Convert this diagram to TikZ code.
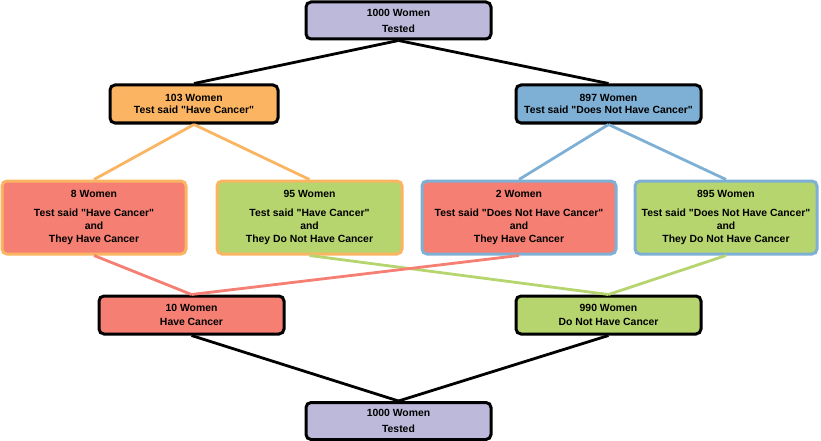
\documentclass[tikz,border=0pt]{standalone}
\usepackage{fontspec}
\newfontfamily\boxfont{Liberation Sans}
\definecolor{cpurple}{HTML}{BDB9DB}
\definecolor{corange}{HTML}{FBB562}
\definecolor{cblue}{HTML}{7EB0D5}
\definecolor{cred}{HTML}{F47F72}
\definecolor{cgreen}{HTML}{B6D56E}
\tikzset{
  box/.style={draw=black, line width=3pt, rounded corners=5pt, align=center,
    inner sep=0pt, font=\boxfont\fontsize{10.4}{12}\selectfont\bfseries},
  link/.style={line width=2.8pt},
}
\begin{document}
\begin{tikzpicture}[x=1pt,y=-1pt]
\useasboundingbox (0,0) rectangle (821,441);
% nodes
\node[box, fill=cpurple, minimum width=185, minimum height=37] (top) at (398.5,20.5) {1000 Women\\[4pt]Tested};
\node[box, fill=corange, minimum width=168, minimum height=38] (pos) at (194,104) {103 Women\\Test said "Have Cancer"};
\node[box, fill=cblue, minimum width=185, minimum height=38] (neg) at (608.5,104) {897 Women\\Test said "Does Not Have Cancer"};
\node[box, draw=corange, fill=cred, minimum width=184, minimum height=73] (tp) at (94,217.5) {8 Women\\[7pt]Test said "Have Cancer"\\[1pt]and\\[1pt]They Have Cancer};
\node[box, draw=corange, fill=cgreen, minimum width=185, minimum height=73] (fp) at (309.5,217.5) {95 Women\\[7pt]Test said "Have Cancer"\\[1pt]and\\[1pt]They Do Not Have Cancer};
\node[box, draw=cblue, fill=cred, minimum width=194, minimum height=73] (fn) at (519,217.5) {2 Women\\[7pt]Test said "Does Not Have Cancer"\\[1pt]and\\[1pt]They Have Cancer};
\node[box, draw=cblue, fill=cgreen, minimum width=182, minimum height=73] (tn) at (726,217.5) {895 Women\\[7pt]Test said "Does Not Have Cancer"\\[1pt]and\\[1pt]They Do Not Have Cancer};
\node[box, fill=cred, minimum width=185, minimum height=38] (can) at (191.5,315) {10 Women\\[2pt]Have Cancer};
\node[box, fill=cgreen, minimum width=185, minimum height=38] (nocan) at (608.5,315) {990 Women\\[2pt]Do Not Have Cancer};
\node[box, fill=cpurple, minimum width=185, minimum height=37] (bot) at (398.5,421) {1000 Women\\[4pt]Tested};
% connectors
\draw[link, black] (top.south) -- (pos.north);
\draw[link, black] (top.south) -- (neg.north);
\draw[link, corange] (pos.south) -- (tp.north);
\draw[link, corange] (pos.south) -- (fp.north);
\draw[link, cblue] (neg.south) -- (fn.north);
\draw[link, cblue] (neg.south) -- (tn.north);
\draw[link, cred] (tp.south) -- (can.north);
\draw[link, cgreen] (fp.south) -- (nocan.north);
\draw[link, cred] (fn.south) -- (can.north);
\draw[link, cgreen] (tn.south) -- (nocan.north);
\draw[link, black] (can.south) -- (bot.north);
\draw[link, black] (nocan.south) -- (bot.north);
\end{tikzpicture}
\end{document}
